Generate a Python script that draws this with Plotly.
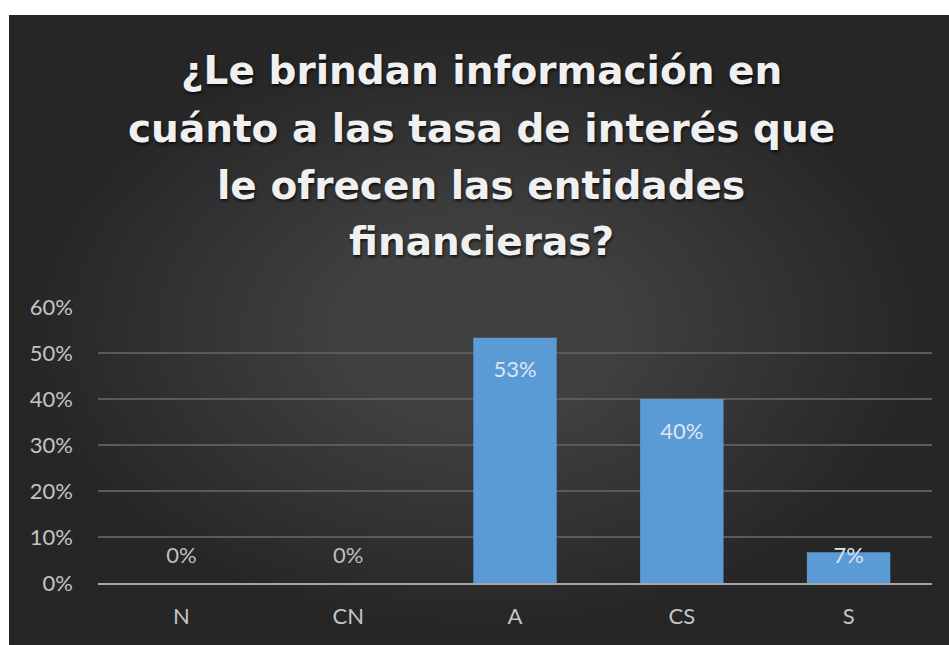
import plotly.graph_objects as go

# ---- data ----
categories = ["N", "CN", "A", "CS", "S"]
values = [0.0, 0.0, 0.5333, 0.40, 0.0667]
value_labels = ["0%", "0%", "53%", "40%", "7%"]
y_tick_values = [0, 0.1, 0.2, 0.3, 0.4, 0.5, 0.6]
y_tick_labels = ["0%", "10%", "20%", "30%", "40%", "50%", "60%"]
title_lines = [
    "¿Le brindan información en",
    "cuánto a las tasa de interés que",
    "le ofrecen las entidades",
    "financieras?",
]

# ---- geometry helpers (pixel -> paper) ----
W, H = 949, 645
L, R, T, B = 98, 17, 307, 62
PW, PH = W - L - R, H - T - B


def px(x):
    return (x - L) / PW


def py(y):
    return (H - B - y) / PH


fig = go.Figure()

fig.add_trace(go.Bar(
    x=categories,
    y=values,
    marker=dict(color="#5b9bd5", line=dict(width=0)),
    hoverinfo="skip",
))

# data labels (Excel "inside end", pushed up for tiny bars)
label_y = [max(v - 0.074, 0.055) for v in values]
label_colors = ["#dbe6f2" if v > 0.03 else "#bfbfbf" for v in values]
fig.add_trace(go.Scatter(
    x=categories,
    y=label_y,
    mode="text",
    text=value_labels,
    textposition="middle center",
    textfont=dict(family="Lato, Open Sans, sans-serif", size=22, color=label_colors),
    hoverinfo="skip",
))

# ---- background: dark panel with radial gradient ----
shapes = [dict(
    type="rect", xref="paper", yref="paper",
    x0=px(9), x1=px(W + 2), y0=py(H + 2), y1=py(15),
    fillcolor="#262626", line=dict(width=0), layer="below",
)]
cx, cy = (9 + W) / 2, (15 + H) / 2
rx_max, ry_max = (W - 9) / 2 * 1.12, (H - 15) / 2 * 1.12
N = 44
for k in range(N, 0, -1):
    f = k / N
    a = 0.026 * f * (1.12 - f)
    shapes.append(dict(
        type="circle", xref="paper", yref="paper",
        x0=px(cx - rx_max * f), x1=px(cx + rx_max * f),
        y0=py(cy + ry_max * f), y1=py(cy - ry_max * f),
        fillcolor="rgba(255,255,255,%.4f)" % a,
        line=dict(width=0), layer="below",
    ))

# ---- title lines ----
annotations = []
baselines = [84, 142, 199, 255]
TS = 39
for line, bl in zip(title_lines, baselines):
    annotations.append(dict(
        text=line, xref="paper", yref="paper",
        x=px(481), y=py(bl - 0.346 * TS), xanchor="center", yanchor="middle",
        showarrow=False,
        font=dict(family="DejaVu Sans, sans-serif", size=TS, color="#f0f0f0",
                  weight="bold", shadow="1px 2px 3px rgba(0,0,0,0.7)"),
    ))

fig.update_layout(
    width=W, height=H,
    margin=dict(l=L, r=R, t=T, b=B, pad=0),
    paper_bgcolor="white",
    plot_bgcolor="rgba(0,0,0,0)",
    showlegend=False,
    bargap=0.5,
    shapes=shapes,
    annotations=annotations,
    hovermode=False,
    font=dict(family="Lato, Open Sans, sans-serif", size=22, color="#bfbfbf"),
)

fig.update_xaxes(
    type="category", range=[-0.5, 4.5],
    showgrid=False, showline=True, linecolor="#a6a6a6", linewidth=2,
    ticks="", ticklabelstandoff=13,
    tickfont=dict(family="Lato, Open Sans, sans-serif", size=22, color="#c4c4c4"),
    fixedrange=True,
)
fig.update_yaxes(
    range=[0, 0.6], tickvals=y_tick_values, ticktext=y_tick_labels,
    showgrid=True, gridcolor="#5a5a5a", gridwidth=1.5, zeroline=False,
    showline=False, ticks="", ticklabelstandoff=24,
    tickfont=dict(family="Lato, Open Sans, sans-serif", size=22, color="#c4c4c4"),
    fixedrange=True,
)

fig.write_html(
    "out.html",
    config={"displayModeBar": False},
    post_script="document.body.style.margin='0';document.body.style.overflow='hidden';",
)
